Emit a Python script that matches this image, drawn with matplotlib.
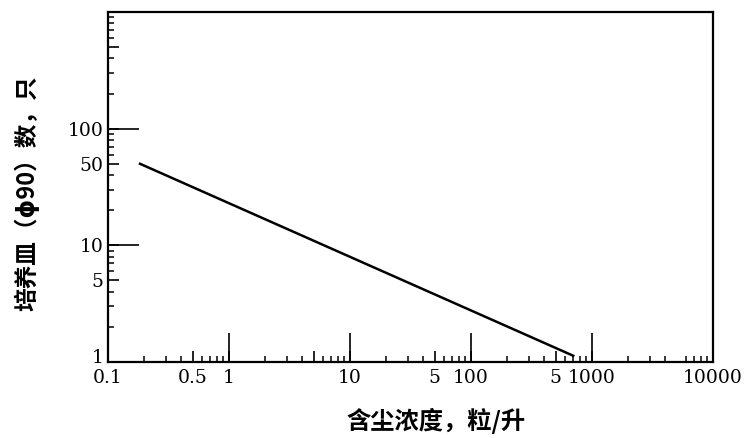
import matplotlib
matplotlib.use("Agg")
import matplotlib.pyplot as plt
import matplotlib.transforms as mtransforms
from matplotlib.ticker import FixedLocator, FixedFormatter, NullFormatter

# data
conc = [0.18, 715]          # 含尘浓度, 粒/升
dishes = [50.5, 1.12]       # 培养皿数, 只

x_label_ticks = [0.1, 0.5, 1, 5, 10, 50, 100, 500, 1000, 10000]
x_label_text = ["0.1", "0.5", "1", "", "10", "5", "100", "5", "1000", "10000"]
y_label_ticks = [1, 5, 10, 50, 100, 500]
y_label_text = ["1", "5", "10", "50", "100", ""]
decades_x = [1, 10, 100, 1000]
decades_y = [10, 100]

fig = plt.figure(figsize=(7.44, 4.38), dpi=100)
ax = fig.add_axes([108/744, 1-362/438, (713-108)/744, (362-12)/438])
ax.set_xscale("log")
ax.set_yscale("log")
ax.set_xlim(0.1, 10000)
ax.set_ylim(1, 1000)

ax.plot(conc, dishes, color="black", lw=1.8, solid_capstyle="butt")

for s in ax.spines.values():
    s.set_linewidth(1.6)

num_font = dict(family="DejaVu Serif", size=13.5)

minors_x = [m * 10.0**e for e in range(-1, 4) for m in (2, 3, 4, 6, 7, 8, 9)]
minors_y = [m * 10.0**e for e in range(0, 3) for m in (2, 3, 4, 6, 7, 8, 9)]

ax.xaxis.set_major_locator(FixedLocator(x_label_ticks))
ax.xaxis.set_major_formatter(FixedFormatter(x_label_text))
ax.xaxis.set_minor_locator(FixedLocator(minors_x))
ax.xaxis.set_minor_formatter(NullFormatter())
ax.yaxis.set_major_locator(FixedLocator(y_label_ticks))
ax.yaxis.set_major_formatter(FixedFormatter(y_label_text))
ax.yaxis.set_minor_locator(FixedLocator(minors_y))
ax.yaxis.set_minor_formatter(NullFormatter())

ax.tick_params(which="major", direction="in", length=8, width=1.2, pad=4)
ax.tick_params(which="minor", direction="in", length=4, width=1.1)
ax.tick_params(axis="x", which="major", pad=5)
ax.tick_params(axis="y", which="major", pad=3)
for lab in ax.get_xticklabels() + ax.get_yticklabels():
    lab.set_fontfamily(num_font["family"])
    lab.set_fontsize(num_font["size"])

# lift the y "1" label slightly so it clears "0.1"
ylabs = ax.get_yticklabels()
shift = mtransforms.ScaledTranslation(0, 6/100, fig.dpi_scale_trans)
ylabs[0].set_transform(ylabs[0].get_transform() + shift)

# long decade ticks
sx = ax.secondary_xaxis("bottom")
sx.set_xticks(decades_x)
sx.xaxis.set_minor_locator(FixedLocator([]))
sx.tick_params(which="major", direction="in", length=21, width=1.2, labelbottom=False)
sx.spines["bottom"].set_visible(False)

sy = ax.secondary_yaxis("left")
sy.set_yticks(decades_y)
sy.yaxis.set_minor_locator(FixedLocator([]))
sy.tick_params(which="major", direction="in", length=22, width=1.2, labelleft=False)
sy.spines["left"].set_visible(False)

cjk = ["Noto Sans CJK SC", "DejaVu Sans"]
fig.text(436/744, 1-421/438, "含尘浓度，粒/升", family=cjk, fontsize=17.5,
         fontweight="bold", ha="center", va="center")
fig.text(27/744, 1-193/438, "培养皿（ϕ90）数，只", family=cjk, fontsize=17,
         fontweight="bold", ha="center", va="center", rotation=90)

fig.savefig("out.png", dpi=100)
